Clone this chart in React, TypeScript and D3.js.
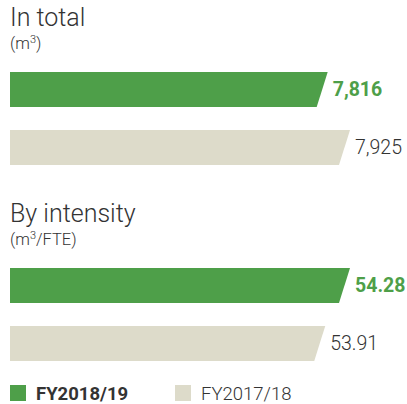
import React from 'react';
import * as d3 from 'd3';

const years = ['FY2018/19', 'FY2017/18'];
const totalValues = [7816, 7925];
const intensityValues = [54.28, 53.91];
const colors = ['#4e9f49', '#dddbca'];

const W = 407;
const H = 404;
const BAR_LEFT = 10;
const SLANT = 11;

interface PanelProps {
  title: string;
  unit: string;
  unitSuffix: string;
  values: number[];
  domainMin: number;
  fmt: (v: number) => string;
  top: number;
}

const Panel: React.FC<PanelProps> = ({ title, unit, unitSuffix, values, domainMin, fmt, top }) => {
  const x = d3.scaleLinear().domain([domainMin, d3.max(values) as number]).range([0, 340]);
  const y = d3.scaleBand<string>().domain(years).range([top + 72, top + 165]).paddingInner(0.397);
  const bw = y.bandwidth();

  return (
    <g>
      <text x={10} y={top + 26} fontSize={25} fontWeight={300} fill="#333">{title}</text>
      <text x={10} y={top + 49} fontSize={16.5} fontWeight={300} fill="#333">
        {unit}
        <tspan fontSize={11} dy={-6}>3</tspan>
        <tspan dy={6}>{unitSuffix}</tspan>
      </text>
      {values.map((v, i) => {
        const y0 = y(years[i]) as number;
        const xr = BAR_LEFT + x(v);
        const path = d3.path();
        path.moveTo(BAR_LEFT, y0);
        path.lineTo(xr, y0);
        path.lineTo(xr - SLANT, y0 + bw);
        path.lineTo(BAR_LEFT, y0 + bw);
        path.closePath();
        return (
          <g key={years[i]}>
            <path d={path.toString()} fill={colors[i]} />
            <text
              x={xr + 5}
              y={y0 + bw / 2}
              dy="0.35em"
              fontSize={19.5}
              fontWeight={i === 0 ? 700 : 300}
              fill={i === 0 ? colors[0] : '#333'}
            >
              {fmt(v)}
            </text>
          </g>
        );
      })}
    </g>
  );
};

const App: React.FC = () => {
  const legendX = d3.scalePoint<string>().domain(years).range([10, 175]);

  return (
    <svg
      width={W}
      height={H}
      style={{ position: 'absolute', left: 0, top: 0, background: '#fff' }}
      fontFamily="Roboto, 'Noto Sans', sans-serif"
    >
      <Panel
        title="In total"
        unit="(m"
        unitSuffix=")"
        values={totalValues}
        domainMin={6263}
        fmt={d3.format(',')}
        top={0}
      />
      <Panel
        title="By intensity"
        unit="(m"
        unitSuffix="/FTE)"
        values={intensityValues}
        domainMin={49.2}
        fmt={d3.format('.2f')}
        top={196}
      />
      {years.map((yr, i) => (
        <g key={yr} transform={`translate(${legendX(yr)},385)`}>
          <rect width={16} height={16} fill={colors[i]} />
          <text
            x={26}
            y={15}
            fontSize={18.5}
            fontWeight={i === 0 ? 700 : 300}
            fill="#333"
          >
            {yr}
          </text>
        </g>
      ))}
    </svg>
  );
};

export default App;
